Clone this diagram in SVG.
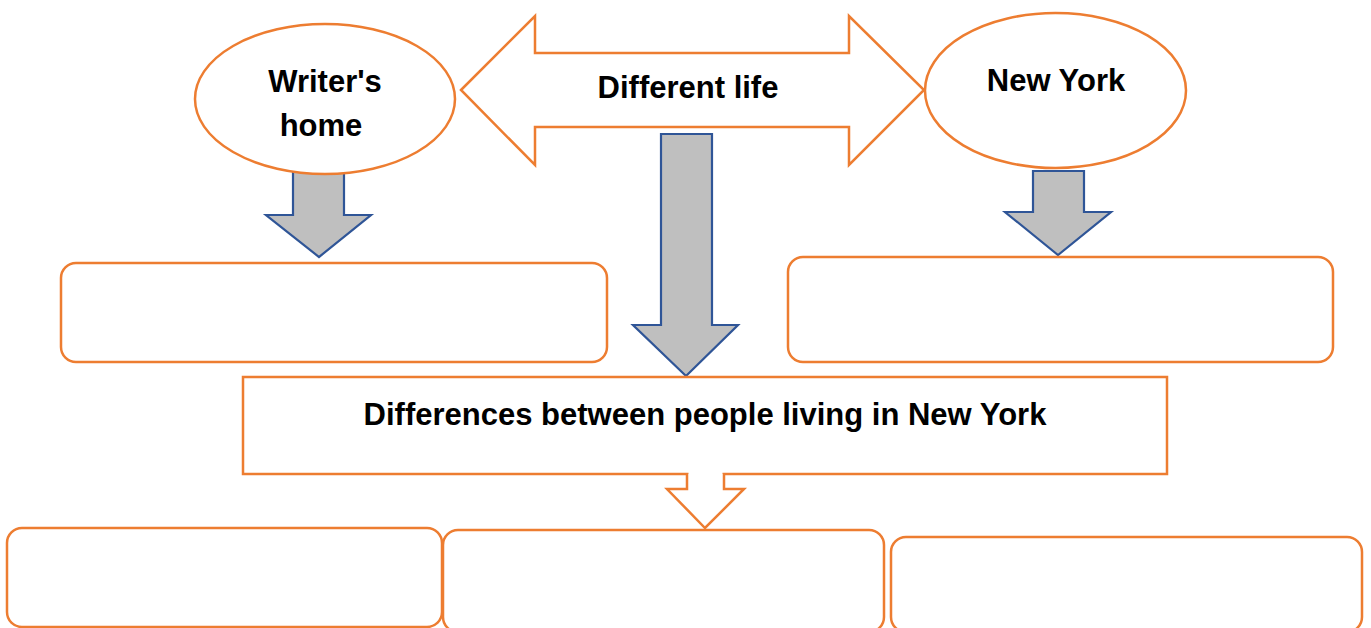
<svg xmlns="http://www.w3.org/2000/svg" width="1371" height="628" viewBox="0 0 1371 628">
<style>
.o{fill:#fff;stroke:#ED7D31;stroke-width:2.5}
.b{fill:#BFBFBF;stroke:#2F5597;stroke-width:2.2;stroke-linejoin:miter}
.t{font-family:"Liberation Sans",Arial,sans-serif;font-weight:bold;font-size:31px;fill:#000;text-anchor:middle}
</style>
<rect width="1371" height="628" fill="#fff"/>
<g id="connectors">
<path class="b" d="M293,168 V215 H266 L319,257 L371,215 H344 V168 Z"/>
<path class="b" d="M1033,171 V212 H1005 L1058,255 L1111,212 H1084 V171 Z"/>
<path class="b" d="M661,134 V325 H633 L686,376 L738,325 H712 V134 Z"/>
</g>
<g id="writers-home">
<ellipse class="o" cx="325" cy="99" rx="130" ry="75"/>
<text class="t" x="325" y="92">Writer's</text>
<text class="t" x="321" y="136">home</text>
</g>
<g id="different-life">
<path class="o" d="M461,90 L535,16 V53 H849 V16 L924,90 L849,165 V127 H535 V165 Z"/>
<text class="t" x="688" y="98">Different life</text>
</g>
<g id="new-york">
<ellipse class="o" cx="1055.5" cy="90.5" rx="130.5" ry="77.5"/>
<text class="t" x="1056" y="91">New York</text>
</g>
<g id="box-left">
<rect class="o" x="61" y="263" width="546" height="99" rx="15"/>
</g>
<g id="box-right">
<rect class="o" x="788" y="257" width="545" height="105" rx="15"/>
</g>
<g id="differences">
<rect class="o" x="243" y="377" width="924" height="97"/>
<text class="t" x="705" y="425">Differences between people living in New York</text>
</g>
<g id="small-arrow">
<rect x="688.5" y="470" width="34" height="6" fill="#fff"/>
<path class="o" d="M687,474 V489 H667 L705,528 L744,489 H724 V474"/>
</g>
<g id="bottom-1">
<rect class="o" x="7" y="528" width="435" height="99" rx="15"/>
</g>
<g id="bottom-2">
<rect class="o" x="443" y="530" width="441" height="102" rx="15"/>
</g>
<g id="bottom-3">
<rect class="o" x="891" y="537" width="471" height="95" rx="15"/>
</g>
</svg>
